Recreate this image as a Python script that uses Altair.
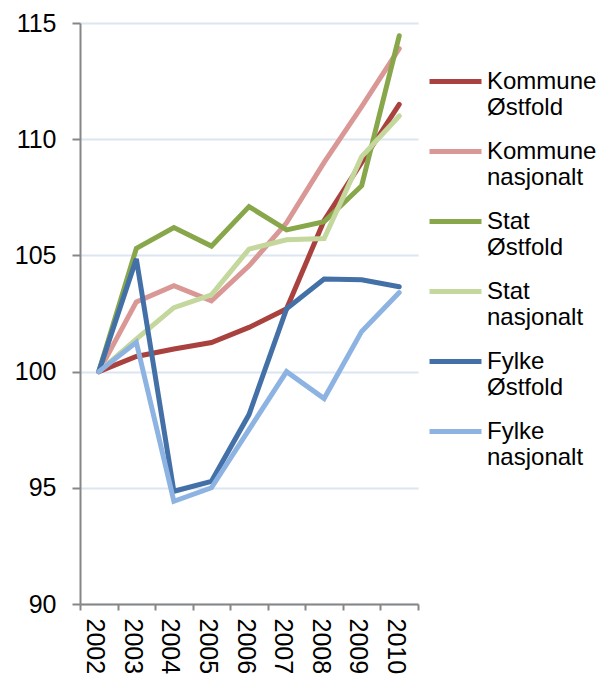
import altair as alt
import pandas as pd

years = ["2002", "2003", "2004", "2005", "2006", "2007", "2008", "2009", "2010"]
series = ["Kommune Østfold", "Kommune nasjonalt", "Stat Østfold",
          "Stat nasjonalt", "Fylke Østfold", "Fylke nasjonalt"]
colors = ["#A9423F", "#D99795", "#87A74A", "#C4D79C", "#4470A8", "#8DB3E2"]

kommune_ostfold = [100, 100.65, 100.97, 101.25, 101.9, 102.7, 106.5, 109.0, 111.5]
kommune_nasjonalt = [100, 103.0, 103.7, 103.05, 104.55, 106.4, 109.0, 111.4, 113.9]
stat_ostfold = [100, 105.3, 106.2, 105.4, 107.1, 106.1, 106.45, 108.0, 114.45]
stat_nasjonalt = [100, 101.4, 102.75, 103.3, 105.27, 105.67, 105.73, 109.25, 111.0]
fylke_ostfold = [100, 104.85, 94.85, 95.28, 98.15, 102.7, 103.98, 103.95, 103.65]
fylke_nasjonalt = [100, 101.26, 94.42, 95.0, 97.5, 100.0, 98.84, 101.73, 103.4]

values = [kommune_ostfold, kommune_nasjonalt, stat_ostfold,
          stat_nasjonalt, fylke_ostfold, fylke_nasjonalt]

rows = []
for s, vals in zip(series, values):
    for y, v in zip(years, vals):
        rows.append({"year": y, "serie": s, "value": v, "order": series.index(s)})
df = pd.DataFrame(rows)

FONT = "Liberation Sans"

chart = alt.Chart(df).mark_line(strokeWidth=5, strokeCap="round", strokeJoin="miter").encode(
    x=alt.X("year:N", sort=years, title=None,
            scale=alt.Scale(paddingInner=0, paddingOuter=0, align=0.5),
            axis=alt.Axis(labelAngle=90, labelAlign="left", labelBaseline="middle",
                          labelFontSize=25, labelColor="black", labelFont=FONT,
                          labelPadding=8, labelOffset=-4, tickBand="extent", tickSize=6,
                          tickColor="#868686", tickWidth=2, domainColor="#868686",
                          domainWidth=2, grid=False, labelOverlap=False)),
    y=alt.Y("value:Q", title=None,
            scale=alt.Scale(domain=[90, 115], nice=False, zero=False),
            axis=alt.Axis(values=[90, 95, 100, 105, 110, 115], labelFontSize=25,
                          labelColor="black", labelFont=FONT, labelPadding=16,
                          tickSize=8, tickColor="#868686", tickWidth=2,
                          domainColor="#868686", domainWidth=2,
                          gridColor="#DCE6F2", gridWidth=2)),
    color=alt.Color("serie:N", sort=series,
                    scale=alt.Scale(domain=series, range=colors),
                    legend=alt.Legend(title=None, orient="none", legendX=347, legendY=30,
                                      symbolType="stroke", symbolStrokeWidth=5,
                                      symbolSize=2700, labelFontSize=24, labelFont=FONT,
                                      labelColor="black", labelLimit=300,
                                      labelExpr="split(datum.label, ' ')",
                                      labelBaseline="middle", rowPadding=3,
                                      labelOffset=3, padding=0)),
    order=alt.Order("order:Q"),
).properties(
    width=338, height=581,
    autosize=alt.AutoSizeParams(type="none"),
    padding={"left": 72, "top": 15, "right": 184, "bottom": 74},
).configure_view(stroke=None)

chart.save("out.html", embed_options={"renderer": "svg", "actions": False})
